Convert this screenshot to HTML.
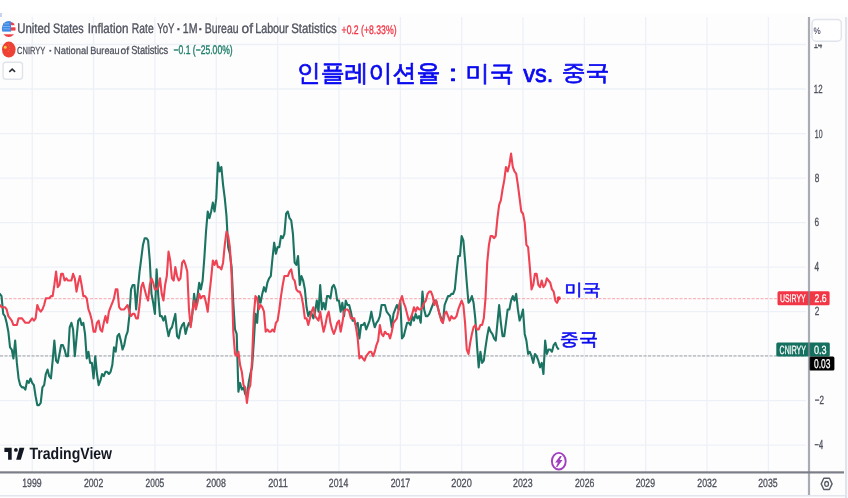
<!DOCTYPE html>
<html><head><meta charset="utf-8"><style>
html,body{margin:0;padding:0;background:#fff;}
body{width:848px;height:498px;overflow:hidden;position:relative;font-family:"Liberation Sans",sans-serif;}
svg{position:absolute;left:0;top:0;filter:blur(0.55px);}
</style></head><body>
<svg width="848" height="498" viewBox="0 0 848 498" font-family="Liberation Sans, sans-serif">
<rect x="0" y="0" width="848" height="498" fill="#ffffff"/>

<rect x="0" y="13" width="848" height="485" fill="#fdfdfe"/>
<rect x="0" y="13" width="2" height="4" fill="#c9d3f0"/>
<g stroke="#edf1f7" stroke-width="1.3"><line x1="32.20" y1="17" x2="32.20" y2="472" /><line x1="93.55" y1="17" x2="93.55" y2="472" /><line x1="154.90" y1="17" x2="154.90" y2="472" /><line x1="216.25" y1="17" x2="216.25" y2="472" /><line x1="277.60" y1="17" x2="277.60" y2="472" /><line x1="338.95" y1="17" x2="338.95" y2="472" /><line x1="400.30" y1="17" x2="400.30" y2="472" /><line x1="461.65" y1="17" x2="461.65" y2="472" /><line x1="523.00" y1="17" x2="523.00" y2="472" /><line x1="584.35" y1="17" x2="584.35" y2="472" /><line x1="645.70" y1="17" x2="645.70" y2="472" /><line x1="707.05" y1="17" x2="707.05" y2="472" /><line x1="768.40" y1="17" x2="768.40" y2="472" /><line x1="0" y1="44.50" x2="806" y2="44.50" /><line x1="0" y1="89.02" x2="806" y2="89.02" /><line x1="0" y1="133.54" x2="806" y2="133.54" /><line x1="0" y1="178.06" x2="806" y2="178.06" /><line x1="0" y1="222.58" x2="806" y2="222.58" /><line x1="0" y1="267.10" x2="806" y2="267.10" /><line x1="0" y1="311.62" x2="806" y2="311.62" /><line x1="0" y1="356.14" x2="806" y2="356.14" /><line x1="0" y1="400.66" x2="806" y2="400.66" /><line x1="0" y1="445.18" x2="806" y2="445.18" /></g>
<line x1="0" y1="298.62" x2="806" y2="298.62" stroke="#f23645" stroke-width="1.2" stroke-dasharray="3,1.5" opacity="0.35"/>
<line x1="0" y1="355.83" x2="806" y2="355.83" stroke="#444" stroke-width="1.2" stroke-dasharray="3,1.5" opacity="0.38"/>
<polyline points="-1.88,293.87 -0.18,293.87 1.53,296.10 3.23,313.91 4.93,316.13 6.64,322.81 8.34,331.71 10.05,347.30 11.75,349.52 13.45,358.43 15.16,340.62 16.86,362.88 18.57,378.46 20.27,385.14 21.98,387.36 23.68,387.36 25.38,389.59 27.09,380.69 28.79,382.91 30.50,378.46 32.20,382.91 33.90,385.14 35.61,396.27 37.31,405.17 39.02,405.17 40.72,402.95 42.43,387.36 44.13,385.14 45.83,374.01 47.54,369.56 49.24,376.23 50.95,378.46 52.65,360.65 54.35,340.62 56.06,360.65 57.76,362.88 59.47,353.97 61.17,345.07 62.88,345.07 64.58,349.52 66.28,356.20 67.99,356.20 69.69,327.26 71.40,322.81 73.10,329.49 74.80,356.20 76.51,338.39 78.21,320.58 79.92,318.36 81.62,325.04 83.33,322.81 85.03,333.94 86.73,358.43 88.44,351.75 90.14,362.88 91.85,362.88 93.55,378.46 95.25,356.20 96.96,374.01 98.66,385.14 100.37,380.69 102.07,374.01 103.78,376.23 105.48,371.78 107.18,371.78 108.89,374.01 110.59,371.78 112.30,365.10 114.00,347.30 115.70,351.75 117.41,336.17 119.11,333.94 120.82,340.62 122.52,349.52 124.22,345.07 125.93,336.17 127.63,331.71 129.34,316.13 131.04,289.42 132.75,284.97 134.45,284.97 136.15,309.45 137.86,289.42 139.56,271.61 141.27,258.26 142.97,244.90 144.68,238.22 146.38,238.22 148.08,240.45 149.79,260.48 151.49,293.87 153.20,302.78 154.90,313.91 156.60,269.39 158.31,296.10 160.01,316.13 161.72,316.13 163.42,320.58 165.12,316.13 166.83,327.26 168.53,336.17 170.24,329.49 171.94,327.26 173.65,320.58 175.35,313.91 177.05,336.17 178.76,338.39 180.46,329.49 182.17,325.04 183.87,322.81 185.57,333.94 187.28,327.26 188.98,322.81 190.69,325.04 192.39,313.91 194.10,293.87 195.80,307.23 197.50,296.10 199.21,282.74 200.91,289.42 202.62,280.52 204.32,258.26 206.02,231.54 207.73,211.51 209.43,218.19 211.14,211.51 212.84,202.61 214.55,211.51 216.25,198.15 217.95,162.54 219.66,171.44 221.36,166.99 223.07,184.80 224.77,198.15 226.48,215.96 228.18,247.13 229.88,253.80 231.59,267.16 233.29,302.78 235.00,329.49 236.70,333.94 238.40,391.82 240.11,382.91 241.81,389.59 243.52,387.36 245.22,394.04 246.93,396.27 248.63,382.91 250.33,374.01 252.04,367.33 253.74,342.84 255.45,313.91 257.15,322.81 258.85,296.10 260.56,302.78 262.26,293.87 263.97,287.19 265.67,291.65 267.38,282.74 269.08,278.29 270.78,276.06 272.49,258.26 274.19,242.67 275.90,253.80 277.60,247.13 279.30,247.13 281.01,236.00 282.71,238.22 284.42,233.77 286.12,213.74 287.82,211.51 289.53,218.19 291.23,220.41 292.94,233.77 294.64,262.71 296.35,264.93 298.05,256.03 299.75,284.97 301.46,276.06 303.16,280.52 304.87,289.42 306.57,307.23 308.27,316.13 309.98,311.68 311.68,313.91 313.39,318.36 315.09,311.68 316.80,300.55 318.50,311.68 320.20,284.97 321.91,309.45 323.61,302.78 325.32,309.45 327.02,296.10 328.72,296.10 330.43,298.32 332.13,287.19 333.84,284.97 335.54,289.42 337.25,300.55 338.95,300.55 340.65,311.68 342.36,302.78 344.06,316.13 345.77,300.55 347.47,305.00 349.17,305.00 350.88,311.68 352.58,320.58 354.29,320.58 355.99,325.04 357.70,322.81 359.40,338.39 361.10,325.04 362.81,325.04 364.51,322.81 366.22,329.49 367.92,325.04 369.62,320.58 371.33,311.68 373.03,320.58 374.74,327.26 376.44,322.81 378.15,320.58 379.85,316.13 381.55,305.00 383.26,305.00 384.96,305.00 386.67,311.68 388.37,313.91 390.07,316.13 391.78,327.26 393.48,313.91 395.19,309.45 396.89,305.00 398.60,309.45 400.30,300.55 402.00,338.39 403.71,336.17 405.41,329.49 407.12,322.81 408.82,322.81 410.52,325.04 412.23,316.13 413.93,320.58 415.64,313.91 417.34,318.36 419.05,316.13 420.75,322.81 422.45,291.65 424.16,309.45 425.86,316.13 427.57,316.13 429.27,313.91 430.97,309.45 432.68,305.00 434.38,300.55 436.09,300.55 437.79,307.23 439.50,313.91 441.20,318.36 442.90,322.81 444.61,305.00 446.31,300.55 448.02,296.10 449.72,296.10 451.42,293.87 453.13,293.87 454.83,289.42 456.54,271.61 458.24,256.03 459.95,256.03 461.65,236.00 463.35,240.45 465.06,260.48 466.76,282.74 468.47,302.78 470.17,300.55 471.88,296.10 473.58,302.78 475.28,318.36 476.99,345.07 478.69,367.33 480.40,351.75 482.10,362.88 483.80,360.65 485.51,347.30 487.21,336.17 488.92,327.26 490.62,331.71 492.32,333.94 494.03,338.39 495.73,340.62 497.44,322.81 499.14,305.00 500.85,322.81 502.55,336.17 504.25,336.17 505.96,322.81 507.66,309.45 509.37,309.45 511.07,300.55 512.77,296.10 514.48,300.55 516.18,293.87 517.89,309.45 519.59,320.58 521.30,316.13 523.00,309.45 524.70,333.94 526.41,340.62 528.11,353.97 529.82,351.75 531.52,356.20 533.23,362.88 534.93,353.97 536.63,356.20 538.34,360.65 540.04,367.33 541.75,362.88 543.45,374.01 545.15,340.62 546.86,353.97 548.56,349.52 550.27,349.52 551.97,351.75 553.68,345.07 555.38,342.84 557.08,347.30 558.79,349.52" fill="none" stroke="#1b7361" stroke-width="2.1" stroke-linejoin="round"/>
<polyline points="-1.88,307.23 -0.18,305.00 1.53,307.23 3.23,307.23 4.93,307.23 6.64,309.45 8.34,316.13 10.05,318.36 11.75,320.58 13.45,325.04 15.16,325.04 16.86,325.04 18.57,318.36 20.27,318.36 21.98,318.36 23.68,320.58 25.38,322.81 27.09,322.81 28.79,322.81 30.50,320.58 32.20,318.36 33.90,320.58 35.61,318.36 37.31,305.00 39.02,309.45 40.72,311.68 42.43,309.45 44.13,305.00 45.83,298.32 47.54,298.32 49.24,298.32 50.95,296.10 52.65,296.10 54.35,284.97 56.06,271.61 57.76,287.19 59.47,284.97 61.17,273.84 62.88,273.84 64.58,280.52 66.28,278.29 67.99,280.52 69.69,280.52 71.40,280.52 73.10,273.84 74.80,278.29 76.51,291.65 78.21,282.74 79.92,276.06 81.62,284.97 83.33,296.10 85.03,296.10 86.73,298.32 88.44,309.45 90.14,313.91 91.85,320.58 93.55,331.71 95.25,331.71 96.96,322.81 98.66,320.58 100.37,329.49 102.07,331.71 103.78,322.81 105.48,316.13 107.18,322.81 108.89,311.68 110.59,307.23 112.30,302.78 114.00,298.32 115.70,289.42 117.41,289.42 119.11,307.23 120.82,309.45 122.52,309.45 124.22,309.45 125.93,307.23 127.63,305.00 129.34,311.68 131.04,316.13 132.75,313.91 134.45,313.91 136.15,318.36 137.86,318.36 139.56,305.00 141.27,287.19 142.97,282.74 144.68,289.42 146.38,296.10 148.08,300.55 149.79,284.97 151.49,278.29 153.20,282.74 154.90,289.42 156.60,289.42 158.31,287.19 160.01,278.29 161.72,293.87 163.42,300.55 165.12,284.97 166.83,276.06 168.53,251.58 170.24,260.48 171.94,278.29 173.65,280.52 175.35,267.16 177.05,276.06 178.76,280.52 180.46,278.29 182.17,262.71 183.87,260.48 185.57,264.93 187.28,271.61 188.98,309.45 190.69,327.26 192.39,311.68 194.10,300.55 195.80,309.45 197.50,302.78 199.21,293.87 200.91,298.32 202.62,296.10 204.32,296.10 206.02,302.78 207.73,311.68 209.43,293.87 211.14,278.29 212.84,260.48 214.55,264.93 216.25,260.48 217.95,267.16 219.66,267.16 221.36,269.39 223.07,262.71 224.77,244.90 226.48,231.54 228.18,236.00 229.88,247.13 231.59,273.84 233.29,331.71 235.00,353.97 236.70,356.20 238.40,351.75 240.11,365.10 241.81,371.78 243.52,385.14 245.22,387.36 246.93,402.95 248.63,389.59 250.33,385.14 252.04,360.65 253.74,316.13 255.45,296.10 257.15,298.32 258.85,309.45 260.56,305.00 262.26,307.23 263.97,311.68 265.67,331.71 267.38,329.49 269.08,331.71 270.78,331.71 272.49,329.49 274.19,331.71 275.90,322.81 277.60,320.58 279.30,309.45 281.01,296.10 282.71,284.97 284.42,276.06 286.12,276.06 287.82,276.06 289.53,271.61 291.23,269.39 292.94,278.29 294.64,280.52 296.35,289.42 298.05,291.65 299.75,291.65 301.46,296.10 303.16,305.00 304.87,318.36 306.57,318.36 308.27,325.04 309.98,318.36 311.68,311.68 313.39,307.23 315.09,316.13 316.80,318.36 318.50,320.58 320.20,311.68 321.91,322.81 323.61,331.71 325.32,325.04 327.02,316.13 328.72,311.68 330.43,322.81 332.13,329.49 333.84,333.94 335.54,329.49 337.25,322.81 338.95,320.58 340.65,331.71 342.36,322.81 344.06,311.68 345.77,309.45 347.47,309.45 349.17,311.68 350.88,318.36 352.58,318.36 354.29,318.36 355.99,327.26 357.70,338.39 359.40,358.43 361.10,356.20 362.81,358.43 364.51,360.65 366.22,356.20 367.92,353.97 369.62,351.75 371.33,351.75 373.03,356.20 374.74,351.75 376.44,345.07 378.15,340.62 379.85,325.04 381.55,333.94 383.26,336.17 384.96,331.71 386.67,333.94 388.37,333.94 390.07,338.39 391.78,331.71 393.48,322.81 395.19,320.58 396.89,318.36 398.60,309.45 400.30,300.55 402.00,296.10 403.71,302.78 405.41,307.23 407.12,313.91 408.82,320.58 410.52,318.36 412.23,313.91 413.93,307.23 415.64,311.68 417.34,307.23 419.05,309.45 420.75,309.45 422.45,307.23 424.16,302.78 425.86,300.55 427.57,293.87 429.27,291.65 430.97,291.65 432.68,296.10 434.38,305.00 436.09,300.55 437.79,307.23 439.50,313.91 441.20,320.58 442.90,322.81 444.61,313.91 446.31,311.68 448.02,316.13 449.72,320.58 451.42,316.13 453.13,318.36 454.83,318.36 456.54,316.13 458.24,309.45 459.95,305.00 461.65,300.55 463.35,305.00 465.06,322.81 466.76,349.52 468.47,353.97 470.17,342.84 471.88,333.94 473.58,327.26 475.28,325.04 476.99,329.49 478.69,329.49 480.40,325.04 482.10,325.04 483.80,318.36 485.51,298.32 487.21,262.71 488.92,244.90 490.62,236.00 492.32,236.00 494.03,238.22 495.73,236.00 497.44,218.19 499.14,204.83 500.85,200.38 502.55,189.25 504.25,180.35 505.96,166.99 507.66,171.44 509.37,164.76 511.07,153.63 512.77,166.99 514.48,171.44 516.18,173.67 517.89,184.80 519.59,198.15 521.30,211.51 523.00,213.74 524.70,222.64 526.41,244.90 528.11,247.13 529.82,267.16 531.52,289.42 533.23,284.97 534.93,273.84 536.63,273.84 538.34,284.97 540.04,287.19 541.75,280.52 543.45,287.19 545.15,284.97 546.86,278.29 548.56,280.52 550.27,282.74 551.97,289.42 553.68,291.65 555.38,300.55 557.08,302.78 558.79,298.32" fill="none" stroke="#ef4253" stroke-width="2.1" stroke-linejoin="round"/>
<circle cx="558.79" cy="298.32" r="2" fill="#f23645"/>
<rect x="845" y="17" width="2.2" height="481" fill="#e1e4ec"/>
<rect x="0" y="495" width="845" height="1.5" fill="#e3e6ee"/>
<rect x="777.5" y="291.2" width="52.1" height="14.1" rx="1.5" fill="#f23645"/>
<rect x="776.3" y="342.5" width="53.5" height="14" rx="1.5" fill="#157060"/>
<rect x="809.1" y="356.5" width="25.3" height="14" rx="1.5" fill="#000"/>
<rect x="807.9" y="17" width="2.2" height="478" fill="#868993" opacity="0.7"/>
<rect x="0" y="471.3" width="844" height="2.2" fill="#7b7e87"/>
<polygon points="821.2,483.9 823.8,478.3 829.4,478.3 832.1,483.9 829.4,489.5 823.8,489.5" fill="none" stroke="#5a5d66" stroke-width="1.4" stroke-linejoin="round"/>
<ellipse cx="826.6" cy="483.9" rx="1.9" ry="2.4" fill="none" stroke="#5a5d66" stroke-width="1.3"/>
<clipPath id="usc"><ellipse cx="8.75" cy="29" rx="6.85" ry="8"/></clipPath>
<g clip-path="url(#usc)">
  <rect x="0" y="20" width="20" height="20" fill="#ffffff"/>
  <rect x="0" y="22.2" width="20" height="3" fill="#ef3f45"/>
  <rect x="0" y="27.3" width="20" height="3.3" fill="#ef3f45"/>
  <rect x="0" y="34.3" width="20" height="4" fill="#ef3f45"/>
  <rect x="0" y="20" width="11" height="11.6" fill="#3d8ae6"/>
  <g fill="#cfe2fb" opacity="0.55"><rect x="4" y="23.5" width="5" height="0.8"/><rect x="3" y="26" width="7" height="0.8"/><rect x="3" y="28.5" width="7" height="0.8"/></g>
</g>
<ellipse cx="8.8" cy="49.6" rx="6.8" ry="8" fill="#ee4135"/>
<circle cx="5.3" cy="47.2" r="1.5" fill="#f8c93a"/>
<g fill="#f4a03a" opacity="0.6"><circle cx="8.3" cy="45" r="0.6"/><circle cx="9.4" cy="47" r="0.6"/><circle cx="9.3" cy="49.5" r="0.6"/><circle cx="8.2" cy="51.3" r="0.6"/></g>
<rect x="3.1" y="62.3" width="19.4" height="16.9" rx="3" fill="#fff" stroke="#e0e3ea" stroke-width="1.4"/>
<polyline points="9.3,71.8 12.2,69.1 15.1,71.8" fill="none" stroke="#2f323a" stroke-width="1.6"/>
<ellipse cx="558.8" cy="461.2" rx="6.9" ry="8.3" fill="#fff" stroke="#a23ec0" stroke-width="1.9"/>
<path d="M560.0,455.9 L561.8,455.9 L559.8,460.0 L562.5,460.0 L557.3,466.9 L556.0,466.9 L557.9,462.5 L555.1,462.5 Z" fill="#a23ec0"/>
<g fill="#131722">
 <path d="M4.4,447.7 H11.7 V459.7 H8.1 V451.9 H4.4 Z"/>
 <circle cx="15.9" cy="449.9" r="1.9"/>
 <path d="M19.5,447.7 H24.4 L20.8,459.7 H16.2 Z"/>
</g>

<text text-rendering="geometricPrecision" transform="translate(17.20,33.02) scale(0.8111,0.9837)" font-size="14" font-weight="normal" fill="#50535e" stroke="#50535e" stroke-width="0.35">United</text>
<text text-rendering="geometricPrecision" transform="translate(53.07,32.98) scale(0.7701,0.9837)" font-size="14" font-weight="normal" fill="#50535e" stroke="#50535e" stroke-width="0.35">States</text>
<text text-rendering="geometricPrecision" transform="translate(87.74,33.02) scale(0.8301,0.9837)" font-size="14" font-weight="normal" fill="#50535e" stroke="#50535e" stroke-width="0.35">Inflation</text>
<text text-rendering="geometricPrecision" transform="translate(131.81,32.98) scale(0.7375,0.9837)" font-size="14" font-weight="normal" fill="#50535e" stroke="#50535e" stroke-width="0.35">Rate</text>
<text text-rendering="geometricPrecision" transform="translate(157.15,33.04) scale(0.6872,0.9837)" font-size="14" font-weight="normal" fill="#50535e" stroke="#50535e" stroke-width="0.35">YoY</text>
<text text-rendering="geometricPrecision" transform="translate(182.82,32.98) scale(0.7546,0.9837)" font-size="14" font-weight="normal" fill="#50535e" stroke="#50535e" stroke-width="0.35">1M</text>
<text text-rendering="geometricPrecision" transform="translate(204.72,32.98) scale(0.7496,0.9837)" font-size="14" font-weight="normal" fill="#50535e" stroke="#50535e" stroke-width="0.35">Bureau</text>
<text text-rendering="geometricPrecision" transform="translate(241.53,33.02) scale(0.9848,0.9837)" font-size="14" font-weight="normal" fill="#50535e" stroke="#50535e" stroke-width="0.35">of</text>
<text text-rendering="geometricPrecision" transform="translate(255.17,33.02) scale(0.7682,0.9837)" font-size="14" font-weight="normal" fill="#50535e" stroke="#50535e" stroke-width="0.35">Labour</text>
<text text-rendering="geometricPrecision" transform="translate(291.19,33.02) scale(0.8146,0.9837)" font-size="14" font-weight="normal" fill="#50535e" stroke="#50535e" stroke-width="0.35">Statistics</text>
<text text-rendering="geometricPrecision" transform="translate(341.56,33.75) scale(0.7886,1.1255)" font-size="11" font-weight="normal" fill="#f23645" stroke="#f23645" stroke-width="0.3">+0.2 (+8.33%)</text>
<text text-rendering="geometricPrecision" transform="translate(17.06,54.02) scale(0.6812,0.9309)" font-size="11" font-weight="normal" fill="#50535e" stroke="#50535e" stroke-width="0.3">CNIRYY</text>
<text text-rendering="geometricPrecision" transform="translate(54.06,54.02) scale(0.8462,0.9309)" font-size="11" font-weight="normal" fill="#50535e" stroke="#50535e" stroke-width="0.3">National</text>
<text text-rendering="geometricPrecision" transform="translate(90.17,54.02) scale(0.8299,0.9309)" font-size="11" font-weight="normal" fill="#50535e" stroke="#50535e" stroke-width="0.3">Bureau</text>
<text text-rendering="geometricPrecision" transform="translate(120.54,54.02) scale(0.9342,0.9309)" font-size="11" font-weight="normal" fill="#50535e" stroke="#50535e" stroke-width="0.3">of</text>
<text text-rendering="geometricPrecision" transform="translate(131.16,54.09) scale(0.8422,1.0638)" font-size="11" font-weight="normal" fill="#50535e" stroke="#50535e" stroke-width="0.3">Statistics</text>
<text text-rendering="geometricPrecision" transform="translate(173.57,54.43) scale(0.7787,1.1313)" font-size="11" font-weight="normal" fill="#22806c" stroke="#22806c" stroke-width="0.35">−0.1 (−25.00%)</text>
<text text-rendering="geometricPrecision" transform="translate(296.63,81.13) scale(1.0433,1.0408)" font-size="23" font-weight="normal" fill="#0a0af0" stroke="#0a0af0" stroke-width="0.7" stroke-linejoin="round">인플레이션율</text>
<text text-rendering="geometricPrecision" transform="translate(448.45,80.73) scale(1.3997,1.0032)" font-size="23" font-weight="normal" fill="#0a0af0" stroke="#0a0af0" stroke-width="0.7" stroke-linejoin="round">:</text>
<text text-rendering="geometricPrecision" transform="translate(465.62,81.36) scale(1.0484,0.9826)" font-size="23" font-weight="normal" fill="#0a0af0" stroke="#0a0af0" stroke-width="0.7" stroke-linejoin="round">미국</text>
<text text-rendering="geometricPrecision" transform="translate(523.22,82.19) scale(1.0232,1.0693)" font-size="23" font-weight="normal" fill="#0a0af0" stroke="#0a0af0" stroke-width="0.7" stroke-linejoin="round">vs.</text>
<text text-rendering="geometricPrecision" transform="translate(561.67,80.01) scale(1.0379,0.9548)" font-size="23" font-weight="normal" fill="#0a0af0" stroke="#0a0af0" stroke-width="0.7" stroke-linejoin="round">중국</text>
<text text-rendering="geometricPrecision" transform="translate(564.38,294.64) scale(1.0713,0.9628)" font-size="17" font-weight="normal" fill="#0a0af0" stroke="#0a0af0" stroke-width="0.6" stroke-linejoin="round">미국</text>
<text text-rendering="geometricPrecision" transform="translate(559.84,344.98) scale(1.1216,1.0154)" font-size="17" font-weight="normal" fill="#0a0af0" stroke="#0a0af0" stroke-width="0.6" stroke-linejoin="round">중국</text>
<text text-rendering="geometricPrecision" transform="translate(29.48,458.95) scale(0.8788,1.0282)" font-size="16" font-weight="bold" fill="#131722" >TradingView</text>
<text text-rendering="geometricPrecision" transform="translate(22.20,487.05) scale(0.7940,1.0868)" font-size="11" font-weight="normal" fill="#50535e" stroke="#50535e" stroke-width="0.3">1999</text>
<text text-rendering="geometricPrecision" transform="translate(83.92,487.05) scale(0.7918,1.0868)" font-size="11" font-weight="normal" fill="#50535e" stroke="#50535e" stroke-width="0.3">2002</text>
<text text-rendering="geometricPrecision" transform="translate(145.58,486.94) scale(0.7610,1.0868)" font-size="11" font-weight="normal" fill="#50535e" stroke="#50535e" stroke-width="0.3">2005</text>
<text text-rendering="geometricPrecision" transform="translate(206.28,487.05) scale(0.8010,1.0868)" font-size="11" font-weight="normal" fill="#50535e" stroke="#50535e" stroke-width="0.3">2008</text>
<text text-rendering="geometricPrecision" transform="translate(268.13,487.05) scale(0.8278,1.0868)" font-size="11" font-weight="normal" fill="#50535e" stroke="#50535e" stroke-width="0.3">2011</text>
<text text-rendering="geometricPrecision" transform="translate(328.85,487.05) scale(0.7918,1.0868)" font-size="11" font-weight="normal" fill="#50535e" stroke="#50535e" stroke-width="0.3">2014</text>
<text text-rendering="geometricPrecision" transform="translate(390.70,486.94) scale(0.7940,1.0868)" font-size="11" font-weight="normal" fill="#50535e" stroke="#50535e" stroke-width="0.3">2017</text>
<text text-rendering="geometricPrecision" transform="translate(451.35,487.05) scale(0.8358,1.0868)" font-size="11" font-weight="normal" fill="#50535e" stroke="#50535e" stroke-width="0.3">2020</text>
<text text-rendering="geometricPrecision" transform="translate(513.06,487.05) scale(0.8010,1.0868)" font-size="11" font-weight="normal" fill="#50535e" stroke="#50535e" stroke-width="0.3">2023</text>
<text text-rendering="geometricPrecision" transform="translate(574.94,487.05) scale(0.7940,1.0868)" font-size="11" font-weight="normal" fill="#50535e" stroke="#50535e" stroke-width="0.3">2026</text>
<text text-rendering="geometricPrecision" transform="translate(635.64,487.05) scale(0.7918,1.0868)" font-size="11" font-weight="normal" fill="#50535e" stroke="#50535e" stroke-width="0.3">2029</text>
<text text-rendering="geometricPrecision" transform="translate(697.28,487.05) scale(0.8032,1.0868)" font-size="11" font-weight="normal" fill="#50535e" stroke="#50535e" stroke-width="0.3">2032</text>
<text text-rendering="geometricPrecision" transform="translate(758.21,486.94) scale(0.7918,1.0868)" font-size="11" font-weight="normal" fill="#50535e" stroke="#50535e" stroke-width="0.3">2035</text>
<text text-rendering="geometricPrecision" transform="translate(813.87,48.30) scale(0.6866,1.0976)" font-size="11" font-weight="normal" fill="#50535e" stroke="#50535e" stroke-width="0.3">14</text>
<text text-rendering="geometricPrecision" transform="translate(813.82,92.85) scale(0.7133,1.0805)" font-size="11" font-weight="normal" fill="#50535e" stroke="#50535e" stroke-width="0.3">12</text>
<text text-rendering="geometricPrecision" transform="translate(814.79,137.50) scale(0.6341,1.0804)" font-size="11" font-weight="normal" fill="#50535e" stroke="#50535e" stroke-width="0.3">10</text>
<text text-rendering="geometricPrecision" transform="translate(814.66,182.05) scale(0.7496,1.0804)" font-size="11" font-weight="normal" fill="#50535e" stroke="#50535e" stroke-width="0.3">8</text>
<text text-rendering="geometricPrecision" transform="translate(814.60,225.77) scale(0.7496,1.0804)" font-size="11" font-weight="normal" fill="#50535e" stroke="#50535e" stroke-width="0.3">6</text>
<text text-rendering="geometricPrecision" transform="translate(814.56,270.90) scale(0.7496,1.1974)" font-size="11" font-weight="normal" fill="#50535e" stroke="#50535e" stroke-width="0.3">4</text>
<text text-rendering="geometricPrecision" transform="translate(814.66,314.92) scale(0.7496,1.0804)" font-size="11" font-weight="normal" fill="#50535e" stroke="#50535e" stroke-width="0.3">2</text>
<text text-rendering="geometricPrecision" transform="translate(814.76,404.13) scale(0.7323,1.0804)" font-size="11" font-weight="normal" fill="#50535e" stroke="#50535e" stroke-width="0.3">−2</text>
<text text-rendering="geometricPrecision" transform="translate(814.57,448.54) scale(0.6779,1.1974)" font-size="11" font-weight="normal" fill="#50535e" stroke="#50535e" stroke-width="0.3">−4</text>
<text text-rendering="geometricPrecision" transform="translate(779.97,302.03) scale(0.6311,1.0089)" font-size="11" font-weight="normal" fill="#ffffff" stroke="#ffffff" stroke-width="0.25">USIRYY</text>
<text text-rendering="geometricPrecision" transform="translate(814.55,302.03) scale(0.7912,1.0089)" font-size="11" font-weight="normal" fill="#ffffff" stroke="#ffffff" stroke-width="0.25">2.6</text>
<text text-rendering="geometricPrecision" transform="translate(779.61,353.53) scale(0.6354,1.0868)" font-size="11" font-weight="normal" fill="#ffffff" stroke="#ffffff" stroke-width="0.25">CNIRYY</text>
<text text-rendering="geometricPrecision" transform="translate(814.00,353.51) scale(0.8270,1.0868)" font-size="11" font-weight="normal" fill="#ffffff" stroke="#ffffff" stroke-width="0.25">0.3</text>
<text text-rendering="geometricPrecision" transform="translate(814.10,368.00) scale(0.7637,1.1587)" font-size="11" font-weight="normal" fill="#ffffff" stroke="#ffffff" stroke-width="0.25">0.03</text><rect x="177.3" y="28.1" width="2.2" height="2.2" fill="#50535e"/><rect x="199.2" y="28.1" width="2.2" height="2.2" fill="#50535e"/>
<rect x="49.4" y="49.9" width="1.8" height="1.7" fill="#50535e"/>
<rect x="811" y="18.5" width="32" height="25.6" fill="#fdfdfe"/>
<rect x="812" y="19.4" width="29.3" height="21.8" rx="4" fill="#fff" stroke="#e1e4ec" stroke-width="1.5"/>
<text x="813.4" y="33.6" font-size="9.5" fill="#1a1a40" text-rendering="geometricPrecision" transform="translate(813.4,0) scale(0.85,1) translate(-813.4,0)">%</text>
</svg>
</body></html>
